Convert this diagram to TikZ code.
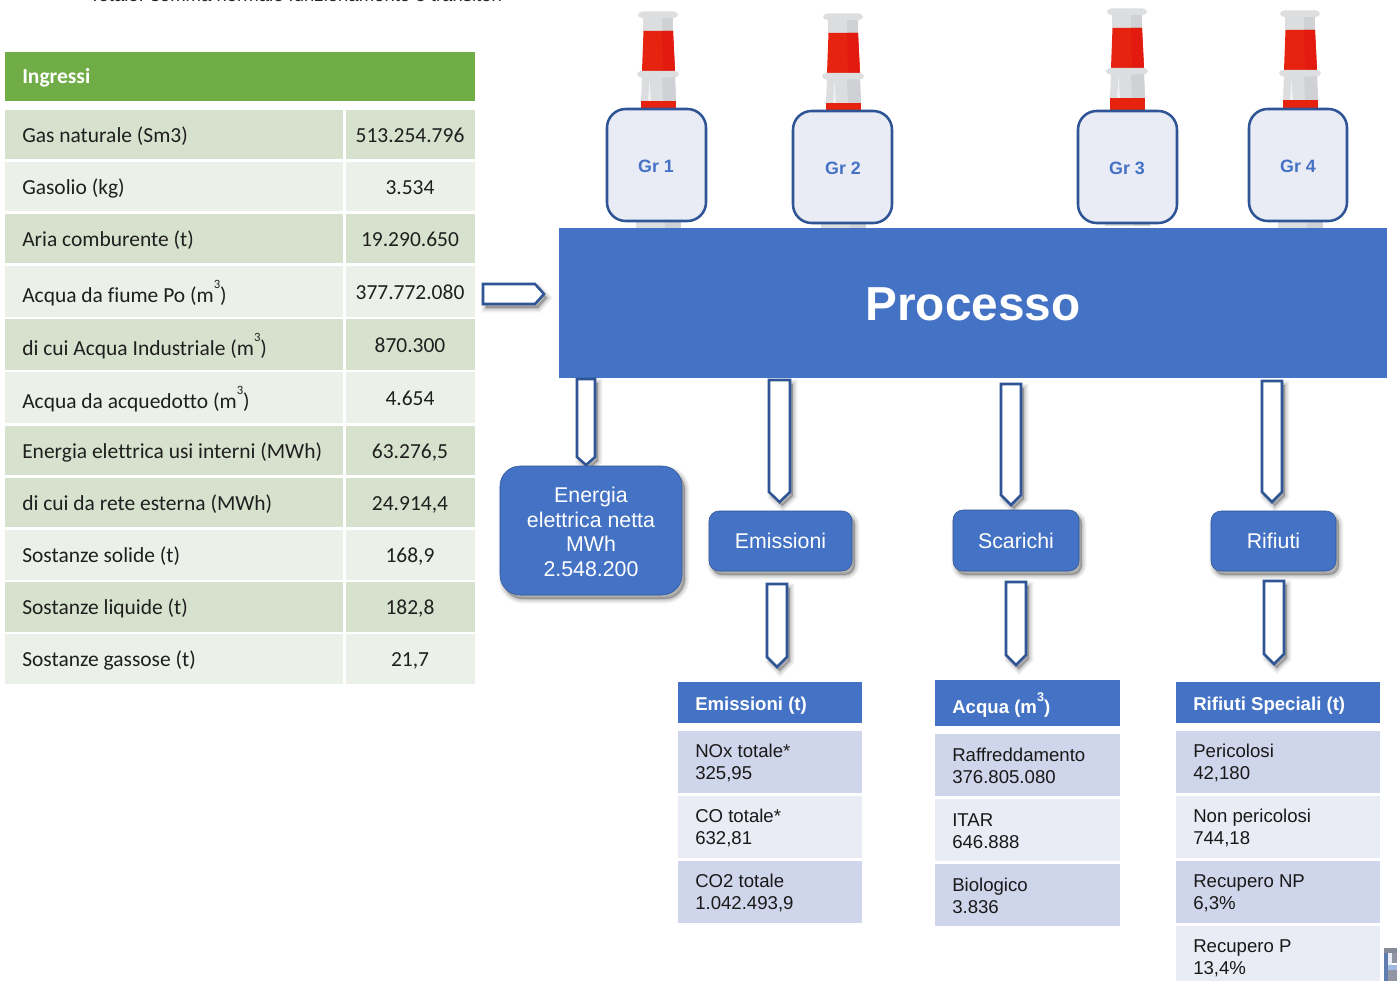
\documentclass[tikz,border=0pt]{standalone}
\usepackage{fontspec}
\setmainfont{Liberation Sans}
\newfontfamily\calib[Ligatures=NoCommon]{Carlito}
\usetikzlibrary{shadows}
\definecolor{blu}{HTML}{4472C4}
\definecolor{edgeblu}{HTML}{2F5597}
\definecolor{rowd}{HTML}{CFD5EA}
\definecolor{rowl}{HTML}{E9EBF5}
\definecolor{grn}{HTML}{70AD47}
\definecolor{grnd}{HTML}{D7E2CE}
\definecolor{grnl}{HTML}{EBF0E8}
\definecolor{chg}{HTML}{DCDDDF}
\definecolor{chgd}{HTML}{CFD1D5}
\definecolor{chcap}{HTML}{DDDEE0}
\definecolor{chr}{HTML}{E6230F}
\definecolor{chrd}{HTML}{E21A10}
\tikzset{
  softsh/.style={
    general shadow={shadow xshift=2.2pt,shadow yshift=-3pt,fill=black,draw=black,opacity=.035,line width=7pt},
    general shadow={shadow xshift=2.2pt,shadow yshift=-3pt,fill=black,draw=black,opacity=.045,line width=5.5pt},
    general shadow={shadow xshift=2.2pt,shadow yshift=-3pt,fill=black,draw=black,opacity=.05,line width=4pt},
    general shadow={shadow xshift=2.2pt,shadow yshift=-3pt,fill=black,draw=black,opacity=.06,line width=2.5pt},
    general shadow={shadow xshift=2.2pt,shadow yshift=-3pt,fill=black,draw=black,opacity=.07,line width=1pt}},
  cell/.style={inner sep=0pt,outer sep=0pt},
  calibtxt/.style={inner sep=0pt,font=\calib\fontsize{16.1}{19}\selectfont,text=black!88},
  grtxt/.style={inner sep=0pt,font=\bfseries\fontsize{13.4}{16}\selectfont,text=blu},
  sidetxt/.style={inner sep=0pt,align=left,anchor=west,font=\fontsize{13.95}{16.5}\selectfont,text=black!90},
  headtxt/.style={inner sep=0pt,anchor=base west,font=\bfseries\fontsize{13.95}{16.5}\selectfont,text=white},
  flowbox/.style={cell,draw=edgeblu,line width=.4pt,fill=blu,text=white,align=center,softsh,font=\fontsize{16}{18.2}\selectfont},
  grbox/.style={cell,draw=edgeblu,line width=1.9pt,fill=rowl,rounded corners=14pt},
  blockarrow/.style={draw=edgeblu,line width=1.9pt,fill=white,softsh,line join=miter}
}
\newcommand\supthree{\raisebox{.62em}{\fontsize{9.5}{10}\selectfont 3}}
% name, style, x1, y1, x2, y2, text
\newcommand\rectnode[7]{\node[cell,#2,minimum width={(#5-(#3))*0.75pt},minimum height={(#6-(#4))*0.75pt}] (#1) at ({(#3+#5)/2},{(#4+#6)/2}) {#7};}
% name, x1, x2, ytop, yshoulder, ytip
\newcommand\downblock[6]{%
  \coordinate (#1a) at (#2,#4);\coordinate (#1b) at (#3,#4);\coordinate (#1c) at (#3,#5);
  \coordinate (#1t) at ({(#2+#3)/2},#6);\coordinate (#1d) at (#2,#5);
  \draw[blockarrow] (#1a) -- (#1b) -- (#1c) -- (#1t) -- (#1d) -- cycle;}
% left-table row: name, y1, y2, colour, base label, base value, label, value
\newcommand\lrow[8]{%
  \rectnode{#1L}{fill=#4}{5}{#2}{343}{#3}{}
  \rectnode{#1R}{fill=#4}{346}{#2}{475}{#3}{}
  \node[calibtxt,anchor=base west] (#1T) at (22,#5) {#7};
  \node[calibtxt,anchor=base] (#1V) at (410,#6) {#8};}
\newcommand\srow[8]{% name,x1,y1,x2,y2,colour,textx,text
  \rectnode{#1}{fill=#6}{#2}{#3}{#4}{#5}{}
  \node[sidetxt] (#1T) at (#7,{(#3+#5)/2+1}) {#8};}
\newcommand\chimney[2]{%
\begin{scope}[shift={(#1,#2)}]
  \fill[chg] (643,18) -- (673,18) -- (673,31) -- (643,31) -- cycle;
  \fill[chgd] (662,18) -- (673,18) -- (673,31) -- (662,31) -- cycle;
  \fill[chr] (643.5,31) -- (673,31) -- (675,71) -- (642,71) -- cycle;
  \fill[chrd] (662,31) -- (673,31) -- (675,71) -- (663,71) -- cycle;
  \fill[chg] (642,77) -- (675,77) -- (676,101) -- (641,101) -- cycle;
  \fill[chgd] (662,77) -- (675,77) -- (676,101) -- (663,101) -- cycle;
  \fill[white!60!chg] (649.5,79) -- (651,101) -- (648,101) -- cycle;
  \fill[chr] (641,101) -- (676,101) -- (676,114) -- (641,114) -- cycle;
  \fill[chcap,rounded corners=3pt] (638,11.5) rectangle (678,18);
  \fill[chcap,rounded corners=3pt] (637,71) rectangle (679,77.5);
  \fill[chg] (636,218) rectangle (681,229);
  \fill[chgd] (665,218) rectangle (681,229);
\end{scope}}
\begin{document}
\begin{tikzpicture}[x=0.75pt,y=-0.75pt]
\useasboundingbox (0,0) rectangle (1397,981);
\fill[white] (0,0) rectangle (1397,981);
% clipped line at the top
\begin{scope}
\clip (0,0) rectangle (1397,981);
\node[inner sep=0pt,anchor=base west,font=\fontsize{13.9}{16}\selectfont,text=black!85] (toptxt) at (89,2) {Totale: somma normale funzionamento e transitori};
\end{scope}
% left table
\rectnode{inghead}{fill=grn}{5}{52}{475}{101}{}
\node[inner sep=0pt,anchor=base west,font=\calib\bfseries\fontsize{16.1}{19}\selectfont,text=white] (ingtxt) at (22,84) {Ingressi};
\lrow{r1}{110}{159}{grnd}{142.3}{142.3}{Gas naturale (Sm3)}{513.254.796}
\lrow{r2}{162}{211}{grnl}{194.5}{194.5}{Gasolio (kg)}{3.534}
\lrow{r3}{214}{263}{grnd}{246.3}{246.3}{Aria comburente (t)}{19.290.650}
\lrow{r4}{266}{317}{grnl}{302}{299}{Acqua da fiume Po (m\supthree)}{377.772.080}
\lrow{r5}{319}{370}{grnd}{355}{352}{di cui Acqua Industriale (m\supthree)}{870.300}
\lrow{r6}{372}{423}{grnl}{408}{405}{Acqua da acquedotto (m\supthree)}{4.654}
\lrow{r7}{426}{475}{grnd}{458}{458}{Energia elettrica usi interni (MWh)}{63.276,5}
\lrow{r8}{478}{527}{grnd}{510}{510}{di cui da rete esterna (MWh)}{24.914,4}
\lrow{r9}{530}{580}{grnl}{562}{562}{Sostanze solide (t)}{168,9}
\lrow{r10}{582}{632}{grnd}{614}{614}{Sostanze liquide (t)}{182,8}
\lrow{r11}{634}{684}{grnl}{666}{666}{Sostanze gassose (t)}{21,7}
% input arrow
\coordinate (ia) at (483,284);\coordinate (ib) at (535,284);\coordinate (ic) at (544,294);\coordinate (id) at (535,304);\coordinate (ie) at (483,304);
\draw[blockarrow] (ia) -- (ib) -- (ic) -- (id) -- (ie) -- cycle;
% chimneys
\chimney{0}{0}
\chimney{185}{2}
\chimney{469}{-3}
\chimney{642}{-1}
% process
\rectnode{proc}{fill=blu}{559}{228}{1387}{378}{}
\node[inner sep=0pt,text=white,font=\bfseries\fontsize{35.8}{40}\selectfont] (proct) at (973,304.5) {Processo};
% groups
\rectnode{gr1}{grbox}{607}{109}{706}{221}{}
\rectnode{gr2}{grbox}{793}{111}{892}{223}{}
\rectnode{gr3}{grbox}{1078}{111}{1177}{223}{}
\rectnode{gr4}{grbox}{1249}{109}{1347}{221}{}
\node[grtxt] (g1t) at (656,166) {Gr 1};
\node[grtxt] (g2t) at (843,168) {Gr 2};
\node[grtxt] (g3t) at (1127,168) {Gr 3};
\node[grtxt] (g4t) at (1298,166) {Gr 4};
% block arrows
\downblock{a1}{577}{595}{379}{457}{465}
\downblock{a2}{769}{790}{380}{492}{502}
\downblock{a3}{1001}{1021}{384}{495}{505}
\downblock{a4}{1262}{1282}{381}{492}{502}
\downblock{b2}{767}{787}{584}{657}{667}
\downblock{b3}{1006}{1026}{582}{655}{665}
\downblock{b4}{1264}{1284}{581}{654}{664}
% flow boxes
\rectnode{energia}{flowbox,rounded corners=15pt}{500}{466}{682}{595}{}
\node[inner sep=0pt,align=center,text=white,font=\fontsize{16}{18.4}\selectfont] (enertxt) at (591,532) {Energia\\elettrica netta\\MWh\\2.548.200};
\rectnode{emiss}{flowbox,rounded corners=7.5pt}{709}{511}{852}{571}{Emissioni}
\rectnode{scar}{flowbox,rounded corners=7.5pt}{953}{510}{1079}{571}{Scarichi}
\rectnode{rifi}{flowbox,rounded corners=7.5pt}{1211}{511}{1336}{571}{Rifiuti}
% Emissioni table
\rectnode{eh}{fill=blu}{678}{682}{862}{723}{}
\node[headtxt] (eht) at (695,710) {Emissioni (t)};
\srow{e1}{678}{731}{862}{793}{rowd}{695}{NOx totale*\\325,95}
\srow{e2}{678}{796}{862}{858}{rowl}{695}{CO totale*\\632,81}
\srow{e3}{678}{861}{862}{923}{rowd}{695}{CO2 totale\\1.042.493,9}
% Acqua table
\rectnode{ah}{fill=blu}{935}{680}{1120}{726}{}
\node[headtxt] (aht) at (952,713) {Acqua (m\supthree)};
\srow{a1r}{935}{734}{1120}{796}{rowd}{952}{Raffreddamento\\376.805.080}
\srow{a2r}{935}{799}{1120}{861}{rowl}{952}{ITAR\\646.888}
\srow{a3r}{935}{864}{1120}{926}{rowd}{952}{Biologico\\3.836}
% Rifiuti table
\rectnode{rh}{fill=blu}{1176}{682}{1380}{723}{}
\node[headtxt] (rht) at (1193,710) {Rifiuti Speciali (t)};
\srow{r1r}{1176}{731}{1380}{793}{rowd}{1193}{Pericolosi\\42,180}
\srow{r2r}{1176}{796}{1380}{858}{rowl}{1193}{Non pericolosi\\744,18}
\srow{r3r}{1176}{861}{1380}{923}{rowd}{1193}{Recupero NP\\6,3\%}
\srow{r4r}{1176}{926}{1380}{988}{rowl}{1193}{Recupero P\\13,4\%}
% image fragment, bottom right
\fill[black!35!rowd] (1384,948) rectangle (1397,953);
\fill[black!20!blu!80] (1384,953) rectangle (1388,981);
\fill[rowl] (1388,953) rectangle (1392,965);
\fill[black!30!rowd] (1392,953) rectangle (1397,963);
\fill[blu!50!white] (1388,965) rectangle (1397,970);
\fill[black!30!rowd] (1388,970) rectangle (1397,981);
\end{tikzpicture}
\end{document}
